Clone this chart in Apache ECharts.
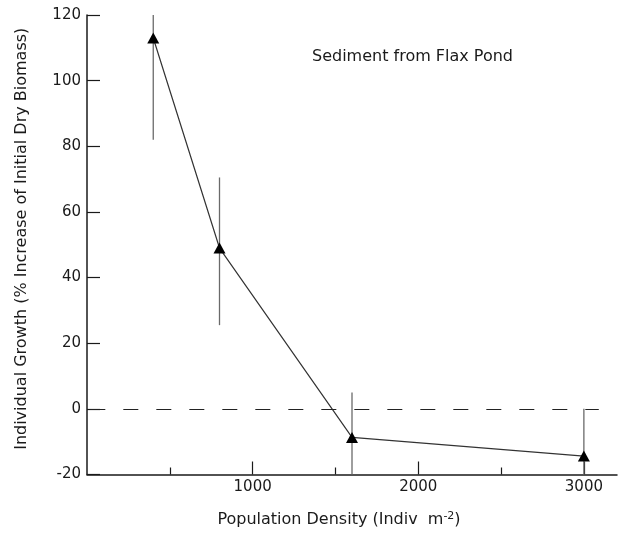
<!DOCTYPE html>
<html>
<head>
<meta charset="utf-8">
<script src="https://cdn.jsdelivr.net/npm/echarts@6/dist/echarts.min.js"></script>
<style>
  html, body { margin: 0; padding: 0; background: #fff; }
  #chart { width: 625px; height: 533px; }
</style>
</head>
<body>
<div id="chart"></div>
<script>
// values
var density = [400, 800, 1600, 3000]
var growth = [113, 49, -8.7, -14.4]
var errLow = [82, 25.5, -20, -20]
var errHigh = [120, 70.5, 5, 0]
var majorTicks = [1000, 2000, 3000]
var minorTicks = [500, 1500, 2500]
var zeroLineX = [20, 3090]

var font = 'DejaVu Sans, Verdana, sans-serif'
var ink = '#1a1a1a'

var chart = echarts.init(document.getElementById('chart'))

var points = density.map(function (d, i) { return [d, growth[i]] })
var bars = density.map(function (d, i) { return [d, errLow[i], errHigh[i]] })

chart.setOption({
  animation: false,
  backgroundColor: '#fff',
  grid: { left: 87, right: 8, top: 15, bottom: 53 },
  title: {
    text: 'Sediment from Flax Pond',
    left: 307,
    top: 44,
    textStyle: { fontFamily: font, fontSize: 16, fontWeight: 'normal', color: ink }
  },
  xAxis: [
    {
      type: 'value',
      min: 0,
      max: 3200,
      name: '{a|Population Density (Indiv  m}{s|-2}{a|)}',
      nameLocation: 'middle',
      nameGap: 36,
      nameTextStyle: {
        padding: [0, 26, 0, 0],
        rich: {
          a: { fontFamily: font, fontSize: 16, color: ink },
          s: { fontFamily: font, fontSize: 11, color: ink, verticalAlign: 'top', padding: [0, 0, 8, 0] }
        }
      },
      splitLine: { show: false },
      axisLine: { show: true, onZero: false, lineStyle: { color: ink, width: 1.5 } },
      axisTick: { inside: true, length: 13, customValues: majorTicks, lineStyle: { color: ink, width: 1.2 } },
      axisLabel: {
        customValues: majorTicks,
        margin: 5,
        fontFamily: font,
        fontSize: 15,
        color: ink,
        formatter: function (v) { return String(v) }
      }
    },
    {
      type: 'value',
      min: 0,
      max: 3200,
      position: 'bottom',
      splitLine: { show: false },
      axisLine: { show: false, onZero: false },
      axisTick: { inside: true, length: 7, customValues: minorTicks, lineStyle: { color: ink, width: 1.2 } },
      axisLabel: { show: false }
    }
  ],
  yAxis: {
    type: 'value',
    min: -20,
    max: 120,
    interval: 20,
    name: 'Individual Growth (% Increase of Initial Dry Biomass)',
    nameLocation: 'middle',
    nameGap: 57,
    nameTextStyle: { fontFamily: font, fontSize: 16, color: ink, padding: [0, 0, 0, 12] },
    splitLine: { show: false },
    axisLine: { show: true, onZero: false, lineStyle: { color: ink, width: 1.5 } },
    axisTick: { inside: true, length: 13, lineStyle: { color: ink, width: 1.2 } },
    axisLabel: { margin: 6, fontFamily: font, fontSize: 15, color: ink }
  },
  series: [
    {
      type: 'custom',
      data: bars,
      z: 1,
      renderItem: function (params, api) {
        var top = api.coord([api.value(0), api.value(2)])
        var bot = api.coord([api.value(0), api.value(1)])
        return {
          type: 'line',
          shape: { x1: top[0], y1: top[1], x2: bot[0], y2: bot[1] },
          style: { stroke: '#6a6a6a', lineWidth: 1.3 }
        }
      }
    },
    {
      type: 'line',
      data: points,
      z: 3,
      symbol: 'triangle',
      symbolSize: [12, 11],
      itemStyle: { color: '#000' },
      lineStyle: { color: '#333', width: 1.2 },
      markLine: {
        silent: true,
        symbol: 'none',
        label: { show: false },
        lineStyle: { color: '#222', width: 1.2, type: [15, 18] },
        data: [[{ coord: [zeroLineX[0], 0] }, { coord: [zeroLineX[1], 0] }]]
      }
    }
  ]
})
</script>
</body>
</html>
